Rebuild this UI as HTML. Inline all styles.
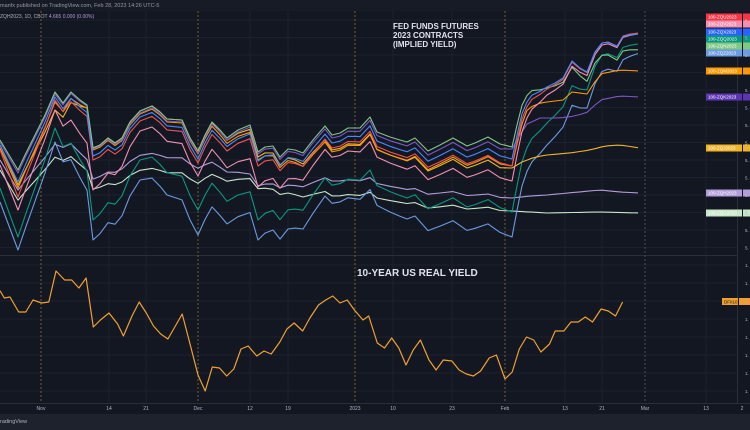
<!DOCTYPE html>
<html><head><meta charset="utf-8"><style>
html,body{margin:0;padding:0;background:#131722;width:750px;height:430px;overflow:hidden;font-family:"Liberation Sans",sans-serif}
svg{display:block}
</style></head><body>
<svg id="s" width="750" height="430" xmlns="http://www.w3.org/2000/svg">
<rect width="750" height="430" fill="#131722"/>
<rect width="750" height="11" fill="#171b26"/>
<text x="0" y="7" font-size="5.5" fill="#9598a1">manfx published on TradingView.com, Feb 28, 2023 14:26 UTC-5</text>
<text x="0" y="18" font-size="5" fill="#b2b5be">ZQH2023, 1D, CBOT <tspan fill="#b39ddb">4.665  0.000 (0.00%)</tspan></text>
<g id="grid" stroke="#1c2030" stroke-width="1"></g>
<line x1="0" y1="255.5" x2="737" y2="255.5" stroke="#2a2e39"/>
<line x1="0" y1="403.5" x2="750" y2="403.5" stroke="#2a2e39"/>
<line x1="737.5" y1="11" x2="737.5" y2="403" stroke="#2a2e39"/>
<g id="vl"></g>
<g id="series" fill="none" stroke-width="1.1" stroke-linejoin="round"></g>
<text x="393" y="29" font-size="8" font-weight="bold" fill="#e0e3eb">FED FUNDS FUTURES</text>
<text x="393" y="38" font-size="8" font-weight="bold" fill="#e0e3eb">2023 CONTRACTS</text>
<text x="393" y="47" font-size="8" font-weight="bold" fill="#e0e3eb">(IMPLIED YIELD)</text>
<text x="357" y="276" font-size="10" font-weight="bold" fill="#e0e3eb">10-YEAR US REAL YIELD</text>
<g id="lab" font-size="4.5"></g>
<g id="tax" font-size="5" fill="#b2b5be" text-anchor="middle"></g>
<rect x="0" y="414" width="750" height="16" fill="#1e222d"/>
<text x="0" y="423" font-size="5.5" fill="#b2b5be">radingView</text>
</svg>
<script>
const NS="http://www.w3.org/2000/svg";
function el(p,t,a,txt){const e=document.createElementNS(NS,t);for(const k in a)e.setAttribute(k,a[k]);if(txt!==undefined)e.textContent=txt;document.getElementById(p).appendChild(e);return e;}
for(let y=20;y<255;y+=17.5)el('grid','line',{x1:0,x2:737,y1:y,y2:y});
for(let y=265;y<403;y+=18)el('grid','line',{x1:0,x2:737,y1:y,y2:y});
[109,146,250,288,393,452,565,602,706].forEach(x=>el('grid','line',{x1:x,x2:x,y1:11,y2:403}));
[41,198,355,505].forEach(x=>el('vl','line',{x1:x,x2:x,y1:11,y2:403,stroke:'#6e5e2c','stroke-dasharray':'2,2','stroke-width':1}));
el('vl','line',{x1:645,x2:645,y1:11,y2:403,stroke:'#4a4e58','stroke-dasharray':'2,2','stroke-width':1});
[['Nov',41],['14',109],['21',146],['Dec',198],['12',250],['19',288],['2023',355],['10',393],['23',452],['Feb',505],['13',565],['21',602],['Mar',645],['13',706],['2',742]].forEach(([t,x])=>el('tax','text',{x:x,y:410},t));
function interp(pts,x){if(x<=pts[0][0])return pts[0][1];for(let i=1;i<pts.length;i++){if(x<=pts[i][0]){const[a,b]=pts[i-1],[c,d]=pts[i];return b+(d-b)*(x-a)/(c-a);}}return pts[pts.length-1][1];}
const T=[[0,140],[6,150],[12,160],[18,170],[25,155],[35,135],[45,115],[55,92],[63,103],[71,92],[80,100],[87,105],[93,148],[100,145],[108,138],[115,143],[122,138],[130,122],[140,111],[152,106],[160,112],[167,119],[182,120],[190,138],[198,151],[205,135],[212,122],[220,130],[227,138],[238,130],[250,125],[258,152],[265,147],[273,146],[280,157],[288,149],[295,150],[303,153],[313,140],[325,126],[332,135],[340,133],[348,128],[360,128],[370,117],[377,132],[390,137],[400,140],[407,142],[415,138],[428,151],[440,145],[453,138],[467,146],[475,143],[488,137],[500,144],[512,147],[517,125],[522,105],[527,95],[532,90],[540,89],[547,87],[555,83],[563,78],[572,61],[580,68],[587,72],[595,52],[602,43],[608,42],[617,46],[623,36],[630,34],[638,33]];
const SM=[[0,140],[55,100],[93,145],[140,110],[198,150],[258,150],[333,132],[512,145]];
const K=[0,18,55,93,140,198,258,333,505,512,547,600,640];
function mk(offs){return K.map((k,i)=>[k,offs[i]]);}
// post: absolute smooth path after x>=512
const series=[
 ['#c8e6c9','abs',[[0,170],[18,185],[55,160],[70,165],[93,188],[140,170],[198,183],[258,188],[333,195],[505,211],[547,213],[640,213]],[[512,211],[547,213],[600,212],[640,213]]],
 ['#b39ddb','abs',[[0,160],[18,175],[55,147],[70,152],[93,178],[140,155],[198,168],[258,185],[333,180],[505,198],[547,195],[600,190],[640,193]],[[512,198],[530,196],[547,195],[600,190],[620,192],[640,193]]],
 ['#6b9be0','off',mk([62,80,50,92,69,84,88,68,89,90,58,29,20])],
 ['#089981','off',mk([48,67,36,72,49,59,68,50,64,65,36,12,11])],
 ['#f0b429','off',mk([5,15,18,0,0,0,5,15,24,24,68,105,115]),[[512,168],[522,162],[535,157],[547,155],[570,153],[590,150],[605,146],[620,145],[640,148]]],
 ['#ff9800','off',mk([8,18,10,2,3,3,8,17,20,20,15,30,38]),[[512,166],[518,140],[525,112],[535,104],[547,102],[563,100],[572,92],[587,94],[600,74],[620,70],[640,71]]],
 ['#7e57c2','off',mk([2,3,2,1,2,2,2,3,5,5,31,50,64]),[[512,149],[518,138],[527,124],[540,118],[560,118],[575,116],[588,112],[600,100],[620,96],[640,97]]],
 ['#81c784','off',mk([0,0,0,0,0,0,0,0,0,0,1,12,17])],
 ['#f48fb1','off',mk([25,40,18,42,20,25,35,22,34,34,8,2,1])],
 ['#ef5350','off',mk([10,27,8,12,10,12,14,13,19,19,2,0,0])],
 ['#448aff','off',mk([5,12,5,8,6,8,9,8,12,12,0,0,1])]
];
series.forEach(([c,mode,p,post])=>{let d='';
 const xs=T.map(q=>q[0]);
 for(const x of xs){let y;
  if(post&&x>=512){y=interp(post,x);}
  else if(mode==='abs'){y=interp(p,x)+(interp(T,x)-interp(SM,x))*0.35;}
  else y=interp(T,x)+interp(p,x);
  d+=(d?'L':'M')+x+','+y.toFixed(1);}
 el('series','path',{d:d,stroke:c});});
const B=[[0,290.7],[3,298],[7,297],[13,312],[18,312],[23,300],[29,303],[34,302],[39,271],[45,280],[50,280],[55,288],[60,278],[65,327],[70,320],[76,313],[82,324],[86,336],[92,316],[97,302],[102,313],[107,326],[112,334],[117,339],[123,324],[127,314],[133,347],[138,375],[143,391],[148,367],[153,368],[158,376],[163,369],[168,349],[173,346],[179,356],[184,351],[189,354],[195,342],[200,329],[205,323],[211,331],[216,318],[222,305],[227,300],[232,296],[237,303],[242,300],[247,310],[253,320],[257,316],[263,343],[268,348],[273,338],[278,348],[283,365],[288,350],[293,340],[299,360],[304,370],[309,360],[315,361],[320,370],[325,374],[330,376],[335,371],[341,358],[346,355],[352,379],[357,372],[362,349],[367,337],[372,340],[377,352],[383,344],[387,331],[393,331],[398,322],[403,322],[408,317],[413,322],[419,309],[424,311],[429,316],[434,302]];
const sx=505/352;el('series','path',{d:B.map((p,i)=>(i?'L':'M')+(p[0]*sx).toFixed(1)+','+p[1]).join(''),stroke:'#f0a030','stroke-width':1.2});
const L=[['#f23645','100-ZQU2023',17],['#f48fb1','100-ZQV2023',24],['#2962ff','100-ZQX2023',32],['#089981','100-ZQQ2023',39],['#81c784','100-ZQN2023',46],['#6b9be0','100-ZQZ2023',53],['#ff9800','100-ZQM2023',71],['#5e35b1','100-ZQK2023',97],['#f0b429','100-ZQJ2023',148],['#b39ddb','100-ZQH2023',193],['#c8e6c9','100-ZQG2023',213]];
L.forEach(([c,t,y])=>{el('lab','rect',{x:706,y:y-3.5,width:36,height:7,fill:c});el('lab','rect',{x:743,y:y-3.5,width:7,height:7,fill:c});el('lab','text',{x:708,y:y+1.7,fill:'#fff'},t);});
el('lab','rect',{x:722,y:298,width:16,height:7,fill:'#f0a030'});el('lab','rect',{x:739,y:298,width:11,height:7,fill:'#f0a030'});
el('lab','text',{x:724,y:303.5,fill:'#131722'},'DFII10');
for(let y=20;y<255;y+=17.5)el('lab','text',{x:745,y:y+2,fill:'#b2b5be'},'5.');
for(let y=265;y<403;y+=18)el('lab','text',{x:745,y:y+2,fill:'#b2b5be'},'1.');
</script>
</body></html>
